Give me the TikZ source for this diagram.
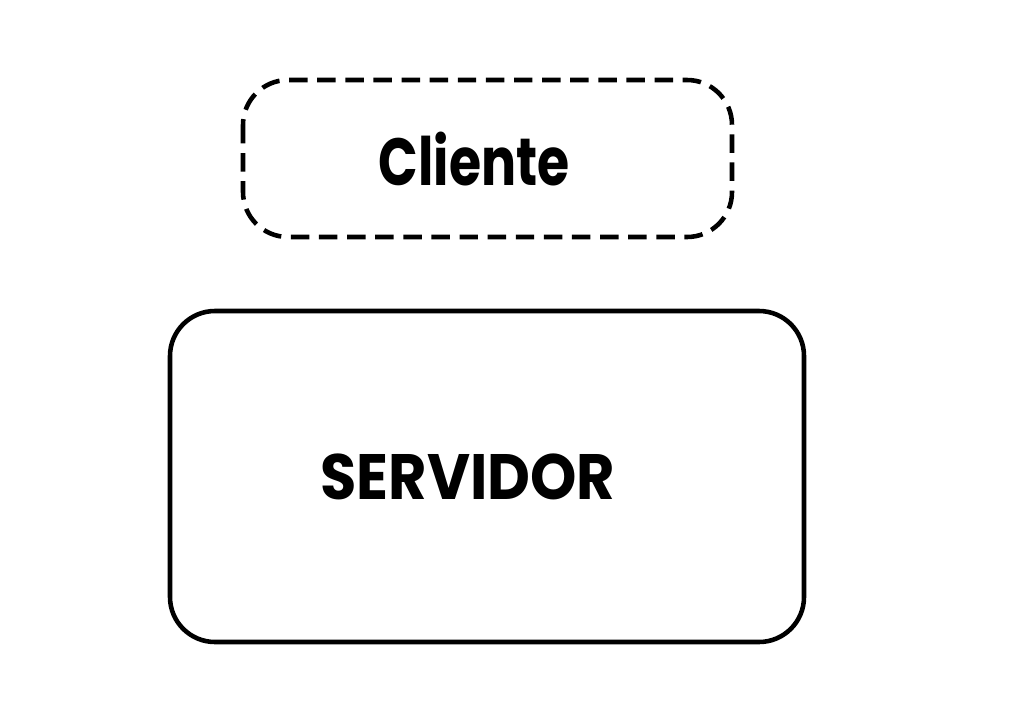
\documentclass[tikz,border=0pt]{standalone}
\usepackage{fontspec}
\newfontfamily\pop{Poppins}
\begin{document}
\begin{tikzpicture}[x=0.02cm,y=-0.02cm,
  boxline/.style={line width=2.6pt, rounded corners=0.9cm},
  lbl/.style={inner sep=0pt}]
\useasboundingbox (0,0) rectangle (1024,720);
\draw[boxline, dash pattern=on 10.5pt off 5.5pt] (243,80) rectangle (732,237);
\node[lbl, font=\pop\bfseries\fontsize{38}{38}\selectfont] (cli) at (474,159) {\scalebox{0.78}[1]{Cliente}};
\draw[boxline] (170,311) rectangle (804,642);
\node[lbl, font=\pop\bfseries\fontsize{36.5}{36.5}\selectfont] (srv) at (468,477) {\scalebox{0.92}[1]{SERVIDOR}};
\end{tikzpicture}
\end{document}
